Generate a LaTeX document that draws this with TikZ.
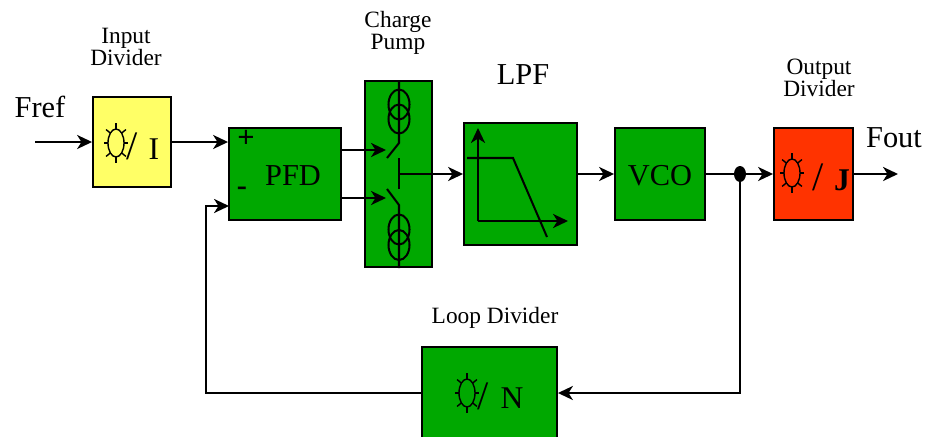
\documentclass[tikz,border=0pt]{standalone}
\usepackage{fontspec}
\setmainfont{Liberation Serif}
\usetikzlibrary{arrows.meta}
\usetikzlibrary{shapes.geometric}

\definecolor{blockgreen}{rgb}{0.0, 0.66, 0.0}
\definecolor{blockyellow}{rgb}{1.0, 1.0, 0.4}
\definecolor{blockred}{rgb}{1.0, 0.2, 0.0}

\tikzset{
    block/.style={draw=black, line width=1.1pt, inner sep=0pt, font=\fontsize{17.3}{20}\selectfont},
    caption/.style={align=center, inner sep=0pt, font=\fontsize{13.3}{12.5}\selectfont},
    bigtext/.style={inner sep=0pt, font=\fontsize{17.3}{20}\selectfont},
    divletter/.style={inner sep=0pt, font=\fontsize{18}{20}\selectfont},
    slash/.style={inner sep=0pt, font=\fontsize{23}{24}\selectfont},
    wire/.style={line width=1.15pt},
    flow/.style={wire, -{Stealth[length=8.5pt, width=8pt, inset=2.5pt]}},
    dial/.pic={
        \draw[line width=0.8pt] (0,0) ellipse (8 and 14);
        \foreach \a in {0,90,180,270}
            \draw[line width=0.8pt] (\a:8 and 14) -- (\a:12 and 20);
        \foreach \a in {45,135,225,315}
            \draw[line width=0.8pt] (\a:8 and 14) -- (\a:14 and 19);
    }
}

\begin{document}
\begin{tikzpicture}[x=0.02cm, y=-0.02cm]

    \clip (0,0) rectangle (925,436);

    % Bloecke
    \node[block, fill=blockyellow, minimum width=1.56cm, minimum height=1.8cm] (idiv) at (132,142) {};
    \node[block, fill=blockgreen, minimum width=2.24cm, minimum height=1.84cm] (pfd) at (285,174) {};
    \node[block, fill=blockgreen, minimum width=1.34cm, minimum height=3.72cm] (pump) at (398.5,174) {};
    \node[block, fill=blockgreen, minimum width=2.26cm, minimum height=2.44cm] (lpf) at (520.5,184) {};
    \node[block, fill=blockgreen, minimum width=1.8cm, minimum height=1.84cm] (vco) at (660,174) {};
    \node[block, fill=blockred, minimum width=1.58cm, minimum height=1.84cm] (odiv) at (813.5,174) {};
    \node[block, fill=blockgreen, minimum width=2.7cm, minimum height=1.84cm] (ldiv) at (489.5,393) {};

    % Beschriftungen
    \node[caption] (idivlabel) at (126,47) {Input\\Divider};
    \node[caption] (pumplabel) at (398,33) {Charge\\Pump};
    \node[caption] (odivlabel) at (819,78) {Output\\Divider};
    \node[caption] (ldivlabel) at (495,318) {Loop Divider};
    \node[bigtext] (lpflabel) at (523,75) {LPF};
    \node[bigtext] (freflabel) at (40,107) {Fref};
    \node[bigtext] (foutlabel) at (894,138) {Fout};
    \node[bigtext] (pfdlabel) at (293,176) {PFD};
    \node[bigtext] (vcolabel) at (660,176) {VCO};
    \node[bigtext] (plus) at (246,139) {\textbf{+}};
    \node[bigtext] (minus) at (242,191) {\textbf{-}};

    % Teiler
    \pic at (116,143) {dial};
    \node[slash] (islash) at (132,146) {/};
    \node[divletter] (iletter) at (154,149) {I};
    \pic at (792,173) {dial};
    \node[slash] (jslash) at (818,177) {/};
    \node[divletter] (jletter) at (842,180) {\textbf{J}};
    \pic at (467,393) {dial};
    \node[slash] (nslash) at (483,396) {/};
    \node[divletter] (nletter) at (512,398) {N};

    % Ladungspumpe
    \coordinate (swup) at (387,158);
    \coordinate (swdown) at (387,189);
    \coordinate (out) at (399,174);
    \draw[wire] (399,80) -- (399,143) -- (swup);
    \draw[wire] (399,268) -- (399,205) -- (swdown);
    \draw[wire] (399,158) -- (399,189);
    \draw[wire] (399,104.5) ellipse (10.5 and 15);
    \draw[wire] (399,119) ellipse (10.5 and 14.5);
    \draw[wire] (399,229.5) ellipse (10.5 and 15);
    \draw[wire] (399,245) ellipse (10.5 and 15);

    % Tiefpass
    \coordinate (origin) at (478,221);
    \draw[flow] (origin) -- (478,128);
    \draw[flow] (origin) -- (568,221);
    \draw[wire] (467,158) -- (513,158) -- (547,237);

    % Verbindungen
    \coordinate (fref) at (35,142);
    \coordinate (fout) at (898,174);
    \coordinate (fbin) at (229,206);
    \coordinate (upin) at (386,150);
    \coordinate (downin) at (386,198);
    \node[fill=black, inner sep=0pt, ellipse, minimum width=0.24cm, minimum height=0.32cm] (tap) at (740,174) {};

    \draw[flow] (fref) -- (idiv.west);
    \draw[flow] (idiv.east) -- (idiv.east -| pfd.west);
    \draw[flow] (upin -| pfd.east) -- (upin);
    \draw[flow] (downin -| pfd.east) -- (downin);
    \draw[flow] (out) -- (out -| lpf.west);
    \draw[flow] (lpf.east |- vco.west) -- (vco.west);
    \draw[wire] (vco.east) -- (tap);
    \draw[flow] (tap) -- (odiv.west);
    \draw[flow] (odiv.east) -- (fout);
    \draw[flow] (tap) |- (ldiv.east);
    \draw[flow] (ldiv.west) -| (206,206) -- (fbin);

\end{tikzpicture}
\end{document}
